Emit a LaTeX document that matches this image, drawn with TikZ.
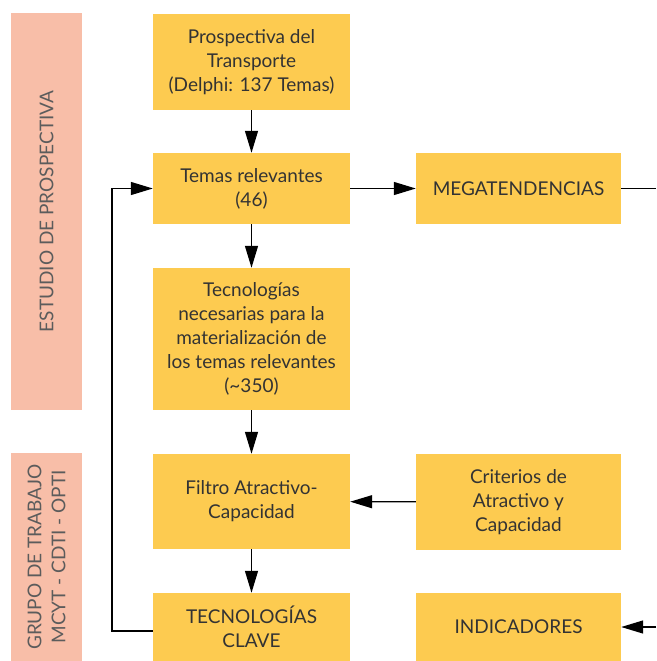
\documentclass[tikz,border=0pt]{standalone}
\usepackage{fontspec}
\setmainfont{Lato}
\usepackage{tikz}
\usetikzlibrary{arrows.meta,positioning}
\definecolor{gold}{HTML}{FDCB50}
\definecolor{salmon}{HTML}{F8BEA8}
\definecolor{ink}{HTML}{333333}
\definecolor{grayink}{HTML}{5C5C5C}

\begin{document}
\begin{tikzpicture}[x=1pt,y=-1pt,>={Triangle[length=22pt,width=13pt]},
    box/.style={fill=gold,text=ink,inner sep=0pt,align=center,
      font=\fontsize{19}{24}\selectfont},
    band/.style={fill=salmon,text=grayink,inner sep=0pt,align=center,rotate=90,
      minimum height=71pt,font=\fontsize{19}{24}\selectfont},
    link/.style={line width=1.3pt}]
  \useasboundingbox (0,0) rectangle (656,661);
  % side bands
  \node[band,minimum width=397pt] (estudio) at (46.5,211.5) {ESTUDIO DE PROSPECTIVA};
  \node[band,minimum width=208pt] (grupo) at (46.5,557) {GRUPO DE TRABAJO\\MCYT - CDTI - OPTI};
  % main column
  \node[box,minimum width=197pt,minimum height=96pt] (pros) at (251.5,62)
    {Prospectiva del\\Transporte\\(Delphi: 137 Temas)};
  \node[box,minimum width=197pt,minimum height=71pt] (temas) at (251.5,188.5)
    {Temas relevantes\\(46)};
  \node[box,minimum width=197pt,minimum height=142pt] (tecno) at (251.5,339)
    {Tecnologías\\necesarias para la\\materialización de\\los temas relevantes\\(\textasciitilde 350)};
  \node[box,minimum width=197pt,minimum height=95pt] (filtro) at (251.5,501.5)
    {Filtro Atractivo-\\Capacidad};
  \node[box,minimum width=197pt,minimum height=68pt] (clave) at (251.5,627)
    {TECNOLOGÍAS\\CLAVE};
  % right column
  \node[box,minimum width=205pt,minimum height=71pt] (mega) at (518.5,188.5)
    {MEGATENDENCIAS};
  \node[box,minimum width=205pt,minimum height=96pt] (crit) at (518.5,502)
    {Criterios de\\Atractivo y\\Capacidad};
  \node[box,minimum width=205pt,minimum height=68pt] (indic) at (518.5,627)
    {INDICADORES};
  \coordinate (megaout) at (656,188.5);
  \coordinate (indicin) at (656,627);
  \coordinate (loop) at (112,631);
  % connectors
  \draw[link,->] (pros) -- (temas);
  \draw[link,->] (temas) -- (tecno);
  \draw[link,->] (tecno) -- (filtro);
  \draw[link,->] (filtro) -- (clave);
  \draw[link,->] (temas) -- (mega);
  \draw[link] (mega) -- (megaout);
  \draw[link,->] (crit) -- (filtro);
  \draw[link,->] (indicin) -- (indic);
  \draw[link,->] (clave.west |- loop) -- (loop) |- (temas.west);
\end{tikzpicture}
\end{document}
